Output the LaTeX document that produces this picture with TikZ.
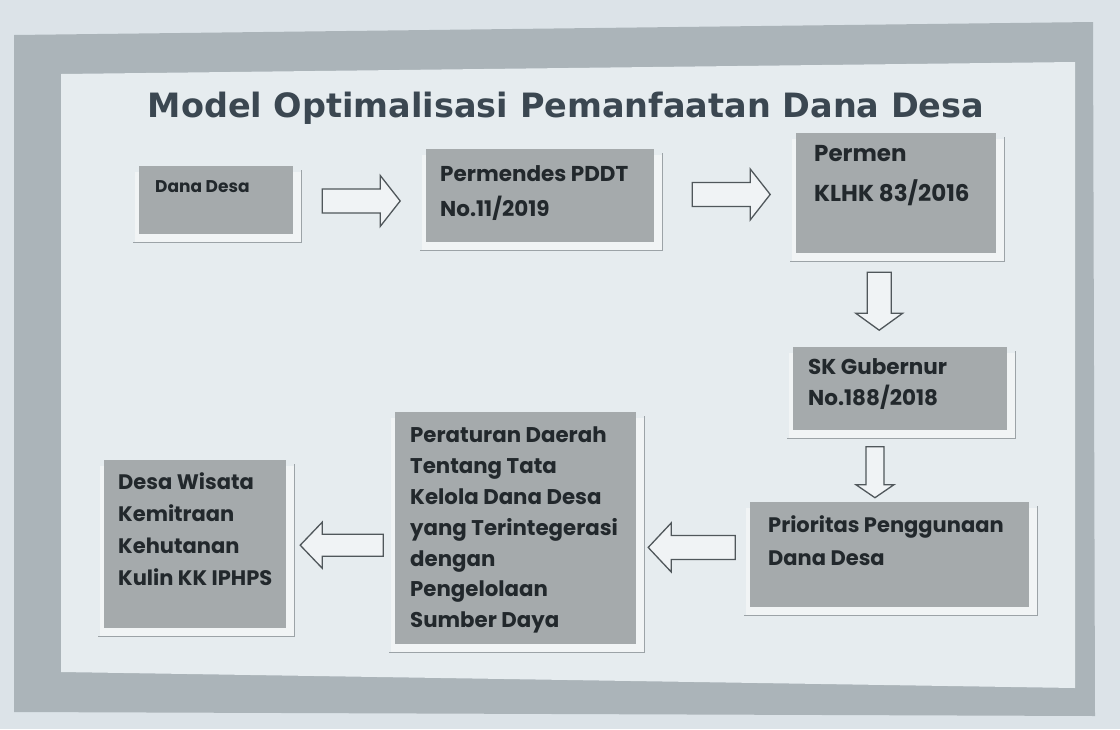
\documentclass[tikz,border=0pt]{standalone}
\usepackage{fontspec}
\setmainfont{DejaVu Sans}
\newfontfamily\boxfont{Poppins}
\usetikzlibrary{calc}
\definecolor{outerbg}{HTML}{DCE3E8}
\definecolor{framec}{HTML}{ABB4B9}
\definecolor{panelc}{HTML}{E6ECEF}
\definecolor{boxc}{HTML}{A5AAAC}
\definecolor{txtc}{HTML}{22282C}
\definecolor{titlec}{HTML}{3B4751}
\definecolor{shadowfill}{HTML}{F1F4F5}
\definecolor{shadowline}{HTML}{9CA3A7}
\definecolor{arrowc}{HTML}{50575B}
\definecolor{arrowfill}{HTML}{F0F3F5}
\pgfdeclarelayer{back}
\pgfdeclarelayer{mid}
\pgfsetlayers{back,mid,main}
% width, height, font size, baselineskip, left pad, top pad, text
\newcommand\bt[7]{\parbox[c][#2pt][t]{#1pt}{\vspace*{#6pt}\fontsize{#3pt}{#4pt}\selectfont\raggedright\leftskip=#5pt\relax #7\par}}
\begin{document}
\begin{tikzpicture}[x=1pt,y=-1pt,
  box/.style={fill=boxc, inner sep=0pt, anchor=north west, text=txtc, font=\boxfont\bfseries},
  titlestyle/.style={font=\fontsize{33.5pt}{40pt}\selectfont\bfseries, text=titlec, inner sep=0pt, anchor=base},
  arrowline/.style={draw=arrowc, fill=arrowfill, line width=1.3pt, line join=miter},
  shadowbg/.style={fill=shadowfill},
  shadowedge/.style={draw=shadowline, line width=1.8pt}
]
\useasboundingbox (0,0) rectangle (1120,729);
\begin{pgfonlayer}{back}
  \fill[outerbg] (0,0) rectangle (1120,729);
  \fill[framec] (14,35) -- (1093,22) -- (1095,716) -- (14,712) -- cycle;
  \fill[panelc] (61,74) -- (1075,62) -- (1075,688) -- (61,672) -- cycle;
\end{pgfonlayer}

\node[titlestyle] (title) at (566,117) {Model Optimalisasi Pemanfaatan Dana Desa};

\node[box] (dana) at (139,166) {\bt{154}{68}{17}{20}{16}{14}{Dana Desa}};
\node[box] (perm) at (426,149) {\bt{228}{93}{21.5}{35}{14}{16}{Permendes PDDT\\No.11/2019}};
\node[box] (klhk) at (796,133) {\bt{200}{120}{23}{40}{18}{12}{Permen\\KLHK 83/2016}};
\node[box] (sk) at (793,347) {\bt{214}{83}{21.5}{31}{15}{11}{SK Gubernur\\No.188/2018}};
\node[box] (prio) at (750,502) {\bt{279}{105}{21}{33}{18}{13}{Prioritas Penggunaan\\Dana Desa}};
\node[box] (per) at (395,412) {\bt{241}{232}{21.3}{30.8}{15}{15}{Peraturan Daerah\\Tentang Tata\\Kelola Dana Desa\\yang Terintegerasi\\dengan\\Pengelolaan\\Sumber Daya}};
\node[box] (desa) at (104,460) {\bt{182}{168}{21}{32}{14}{12}{Desa Wisata\\Kemitraan\\Kehutanan\\Kulin KK IPHPS}};

\begin{pgfonlayer}{mid}
  \foreach \b in {dana,perm,klhk,sk,prio,per,desa}{
    \fill[shadowbg] ($(\b.north west)+(-4,6)$) rectangle ($(\b.south east)+(8,8)$);
    \draw[shadowedge] ($(\b.north east)+(8,4)$) -- ($(\b.south east)+(8,8)$) -- ($(\b.south west)+(-6,8)$);
  }
\end{pgfonlayer}

% right arrows
\draw[arrowline] ($(dana.east)!.5!(perm.west)+(1.5,3)$) ++(-39,-12) -- ++(58,0) -- ++(0,-13.5) -- ++(20,25.5) -- ++(-20,25.5) -- ++(0,-13.5) -- ++(-58,0) -- cycle;
\draw[arrowline] ($(perm.east)!.5!(klhk.west)+(6,0)$) ++(-39,-12) -- ++(58,0) -- ++(0,-13.5) -- ++(20,25.5) -- ++(-20,25.5) -- ++(0,-13.5) -- ++(-58,0) -- cycle;
% down arrows
\draw[arrowline] ($(klhk.south)!.5!(sk.north)+(-19,1)$) ++(-12,-29) -- ++(0,41) -- ++(-11.5,0) -- ++(23.5,17) -- ++(23.5,-17) -- ++(-11.5,0) -- ++(0,-41) -- cycle;
\draw[arrowline] ($(sk.south)!.5!(prio.north)+(-20,6)$) ++(-9,-25.5) -- ++(0,38) -- ++(-10,0) -- ++(19,13) -- ++(19,-13) -- ++(-10,0) -- ++(0,-38) -- cycle;
% left arrows
\draw[arrowline] ($(prio.west)!.5!(per.east)+(-2,6)$) ++(44,-12) -- ++(-64,0) -- ++(0,-12.5) -- ++(-23,24.5) -- ++(23,24.5) -- ++(0,-12.5) -- ++(64,0) -- cycle;
\draw[arrowline] ($(per.west)!.5!(desa.east)+(1,9)$) ++(41.5,-11) -- ++(-61,0) -- ++(0,-12) -- ++(-22,23) -- ++(22,23) -- ++(0,-12) -- ++(61,0) -- cycle;
\end{tikzpicture}
\end{document}
